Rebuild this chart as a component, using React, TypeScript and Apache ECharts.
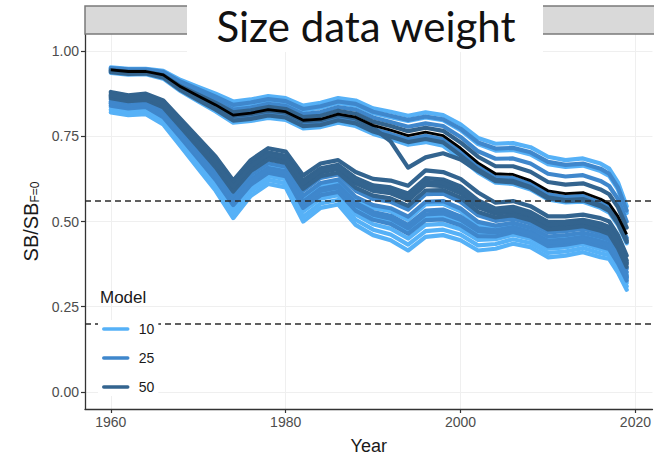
import React, { useEffect, useRef } from "react";
import * as echarts from "echarts";

// ---------- data ----------
const YEARS = [1960, 1962, 1964, 1966, 1968, 1970, 1972, 1974, 1976, 1978, 1980, 1982, 1984, 1986, 1988, 1990,
  1992, 1994, 1996, 1998, 2000, 2002, 2004, 2006, 2008, 2010, 2012, 2014, 2016, 2017, 2018, 2019];

const X_TICKS = [1960, 1980, 2000, 2020];
const Y_TICKS = [0, 0.25, 0.5, 0.75, 1.0];
const REF_LINES = [0.56, 0.2];
const MODELS = ["10", "25", "50"];
const TITLE = "Size data weight";

// base model run (black)
const BASE = [.945, .940, .940, .930, .895, .868, .842, .812, .818, .828, .822, .797, .800, .815, .806, .782,
  .768, .752, .762, .752, .715, .672, .640, .638, .620, .590, .582, .585, .566, .552, .515, .462];

// Model 10 — upper group
const M10_U1 = [.952, .948, .948, .942, .915, .895, .875, .852, .858, .868, .862, .840, .848, .862, .855, .832,
  .822, .810, .820, .812, .785, .745, .728, .730, .718, .690, .680, .685, .670, .655, .615, .545];
const M10_U2 = [.948, .944, .944, .936, .906, .884, .862, .838, .845, .856, .850, .826, .834, .848, .840, .818,
  .806, .795, .805, .797, .768, .727, .708, .710, .697, .668, .660, .664, .648, .634, .594, .525];
const M10_U3 = [.936, .931, .932, .919, .882, .852, .823, .790, .795, .804, .798, .773, .777, .790, .780, .757,
  .742, .725, .733, .722, .685, .644, .614, .610, .594, .565, .556, .558, .540, .526, .490, .436];
// Model 10 — lower group
const M10_L1 = [.820, .812, .815, .785, .720, .655, .590, .510, .575, .610, .600, .500, .540, .550, .490, .460,
  .445, .415, .455, .460, .445, .415, .420, .435, .425, .395, .400, .410, .395, .390, .350, .300];
const M10_L2 = [.828, .820, .823, .793, .730, .666, .602, .524, .588, .622, .612, .514, .553, .563, .505, .476,
  .462, .432, .472, .476, .461, .430, .434, .448, .437, .408, .412, .422, .407, .401, .360, .310];
const M10_L3 = [.836, .828, .831, .801, .740, .677, .614, .538, .600, .634, .624, .530, .567, .577, .521, .492,
  .479, .450, .490, .493, .477, .446, .448, .461, .449, .420, .424, .434, .419, .412, .371, .320];
const M10_L4 = [.845, .837, .840, .810, .750, .688, .627, .554, .614, .648, .638, .548, .584, .594, .540, .512,
  .500, .472, .512, .514, .497, .464, .462, .475, .462, .434, .438, .447, .433, .425, .384, .333];
const M10_L5 = [.852, .844, .848, .818, .760, .700, .640, .570, .630, .665, .655, .568, .605, .615, .565, .540,
  .530, .505, .550, .552, .530, .490, .480, .490, .476, .450, .455, .462, .450, .442, .400, .345];

// Model 25 — upper group
const M25_U1 = [.946, .942, .942, .933, .902, .878, .855, .828, .834, .845, .839, .815, .821, .836, .828, .805,
  .792, .778, .788, .780, .748, .706, .684, .685, .670, .640, .632, .636, .619, .604, .566, .500];
const M25_U2 = [.940, .935, .936, .925, .889, .861, .834, .802, .808, .818, .812, .786, .790, .804, .795, .771,
  .757, .741, .751, .741, .704, .661, .630, .628, .610, .580, .572, .575, .556, .542, .505, .452];
const M25_U3 = [.950, .946, .946, .939, .910, .888, .866, .842, .849, .859, .853, .830, .838, .852, .845, .822,
  .810, .798, .808, .800, .772, .732, .714, .716, .703, .675, .666, .670, .655, .640, .600, .532];
// Model 25 — lower group
const M25_L1 = [.840, .832, .836, .806, .746, .684, .622, .548, .608, .643, .633, .540, .577, .587, .532, .505,
  .493, .464, .504, .506, .489, .457, .456, .469, .456, .428, .432, .441, .427, .419, .378, .327];
const M25_L2 = [.850, .842, .846, .816, .757, .696, .635, .563, .623, .657, .647, .558, .596, .606, .555, .528,
  .517, .490, .532, .535, .515, .480, .474, .484, .470, .443, .447, .455, .442, .434, .392, .340];
const M25_L3 = [.858, .850, .854, .824, .767, .707, .647, .577, .637, .671, .661, .575, .613, .623, .572, .548,
  .539, .514, .558, .560, .538, .499, .488, .496, .482, .456, .460, .467, .455, .446, .404, .352];
const M25_L4 = [.865, .857, .861, .831, .776, .717, .658, .590, .650, .684, .674, .590, .628, .638, .590, .566,
  .558, .535, .580, .582, .558, .518, .502, .508, .494, .468, .472, .479, .466, .457, .415, .362];
const M25_L5 = [.846, .838, .842, .812, .753, .691, .630, .557, .617, .652, .642, .552, .590, .600, .548, .520,
  .508, .480, .521, .524, .505, .472, .468, .478, .465, .437, .441, .450, .437, .428, .387, .336];

// Model 50 — upper group
const M50_U1 = [.944, .939, .939, .929, .896, .872, .848, .820, .826, .836, .830, .806, .810, .825, .816, .793,
  .780, .765, .775, .766, .732, .690, .662, .662, .646, .616, .608, .612, .594, .580, .542, .482];
const M50_U2 = [.938, .933, .934, .922, .885, .856, .828, .796, .801, .811, .805, .780, .783, .797, .788, .764,
  .749, .733, .742, .732, .694, .652, .622, .619, .601, .571, .563, .566, .548, .534, .497, .445];
const M50_U3 = [.942, .937, .937, .927, .892, .866, .840, .810, .815, .825, .819, .794, .797, .812, .802, .775,
  .735, .658, .688, .700, .682, .648, .618, .615, .598, .568, .560, .562, .545, .531, .494, .440];
// Model 50 — lower group
const M50_L1 = [.880, .870, .875, .855, .800, .745, .690, .620, .680, .715, .705, .635, .670, .680, .645, .625,
  .620, .605, .650, .645, .625, .585, .555, .560, .545, .515, .515, .520, .510, .500, .460, .400];
const M50_L2 = [.874, .865, .869, .848, .792, .735, .678, .608, .668, .703, .693, .620, .656, .666, .628, .606,
  .600, .582, .627, .623, .603, .562, .538, .543, .528, .499, .500, .505, .494, .484, .444, .386];
const M50_L3 = [.868, .859, .863, .841, .784, .726, .668, .598, .658, .692, .682, .607, .644, .654, .612, .590,
  .583, .562, .607, .604, .583, .542, .523, .528, .514, .486, .488, .494, .481, .472, .431, .375];
const M50_L4 = [.862, .853, .857, .835, .777, .718, .659, .588, .648, .682, .672, .596, .633, .643, .599, .576,
  .568, .546, .591, .592, .570, .528, .512, .518, .504, .477, .480, .486, .473, .463, .422, .367];
const M50_L5 = [.870, .861, .866, .844, .788, .730, .672, .602, .662, .697, .687, .612, .649, .659, .619, .597,
  .590, .571, .616, .613, .592, .550, .530, .535, .520, .492, .494, .500, .487, .478, .437, .380];

const MODEL_LINES: Record<string, number[][]> = {
  "10": [M10_L1, M10_L2, M10_L3, M10_L4, M10_L5, M10_U1, M10_U2, M10_U3],
  "25": [M25_L1, M25_L2, M25_L3, M25_L4, M25_L5, M25_U1, M25_U2, M25_U3],
  "50": [M50_L1, M50_L2, M50_L3, M50_L4, M50_L5, M50_U1, M50_U2, M50_U3],
};

const COLORS: Record<string, string> = { "10": "#56B1F7", "25": "#3F87CC", "50": "#33648F" };

// ---------- component ----------
export default function App() {
  const ref = useRef<HTMLDivElement>(null);

  useEffect(() => {
    if (!ref.current) return;
    const chart = echarts.init(ref.current, undefined, { renderer: "svg" });
    const FONT = "Liberation Sans, Arial, sans-serif";

    const series: any[] = [];
    // grid lines (kept beneath the data lines)
    series.push({
      type: "line",
      data: [],
      silent: true,
      z: 0,
      markLine: {
        z: 0,
        silent: true,
        symbol: "none",
        label: { show: false },
        lineStyle: { color: "#EFEFEF", width: 1, type: "solid" },
        data: [
          ...Y_TICKS.map((v) => ({ yAxis: v })),
          ...X_TICKS.map((v) => ({ xAxis: v })),
        ],
      },
    });

    MODELS.forEach((m, mi) => {
      MODEL_LINES[m].forEach((vals) => {
        series.push({
          type: "line",
          name: m,
          data: YEARS.map((y, i) => [y, vals[i]]),
          showSymbol: false,
          symbol: "none",
          silent: true,
          z: 2 + mi,
          lineStyle: { color: COLORS[m], width: 4.2, join: "round", cap: "round" },
          itemStyle: { color: COLORS[m] },
        });
      });
    });

    series.push({
      type: "line",
      name: "base",
      data: YEARS.map((y, i) => [y, BASE[i]]),
      showSymbol: false,
      symbol: "none",
      silent: true,
      z: 6,
      lineStyle: { color: "#000000", width: 2.8, join: "round" },
      itemStyle: { color: "#000000" },
    });

    series.push({
      type: "line",
      data: [],
      silent: true,
      z: 8,
      markLine: {
        z: 8,
        silent: true,
        symbol: "none",
        label: { show: false },
        lineStyle: { color: "#2b2b2b", width: 1.6, type: [6, 4] },
        data: REF_LINES.map((v) => ({ yAxis: v })),
      },
    });

    chart.setOption({
      animation: false,
      backgroundColor: "#ffffff",
      grid: { left: 85, top: 34, right: -7, bottom: 47, containLabel: false },
      xAxis: {
        type: "value",
        min: 1957.05,
        max: 2021.95,
        name: "Year",
        nameLocation: "middle",
        nameGap: 28,
        nameTextStyle: { fontFamily: FONT, fontSize: 18, color: "#1a1a1a" },
        axisLine: { show: true, onZero: false, lineStyle: { color: "#333333", width: 1.3 } },
        axisTick: { show: true, length: 4, customValues: X_TICKS, lineStyle: { color: "#333333", width: 1.2 } },
        axisLabel: {
          customValues: X_TICKS,
          fontFamily: FONT,
          fontSize: 14,
          color: "#4D4D4D",
          margin: 6,
          formatter: (v: number) => String(v),
        },
        splitLine: { show: false },
      },
      yAxis: {
        type: "value",
        min: -0.05,
        max: 1.05,
        name: "SB/SB{s|F=0}",
        nameLocation: "middle",
        nameGap: 42,
        nameRotate: 90,
        nameTextStyle: {
          fontFamily: FONT,
          fontSize: 20,
          color: "#1a1a1a",
          rich: {
            s: { fontFamily: FONT, fontSize: 12, color: "#1a1a1a", verticalAlign: "bottom", padding: [8, 0, 0, 0] },
          },
        },
        axisLine: { show: true, onZero: false, lineStyle: { color: "#333333", width: 1.3 } },
        axisTick: { show: true, length: 4, customValues: Y_TICKS, lineStyle: { color: "#333333", width: 1.2 } },
        axisLabel: {
          customValues: Y_TICKS,
          fontFamily: FONT,
          fontSize: 14,
          color: "#4D4D4D",
          margin: 6,
          formatter: (v: number) => v.toFixed(2),
        },
        splitLine: { show: false },
      },
      legend: {
        data: MODELS,
        orient: "vertical",
        left: 98,
        top: 320,
        itemWidth: 24,
        itemHeight: 14,
        itemGap: 15,
        padding: [2, 4, 2, 4],
        backgroundColor: "#ffffff",
        z: 20,
        selectedMode: false,
        itemStyle: { opacity: 0 },
        lineStyle: { width: 3.5, opacity: 1 },
        textStyle: { fontFamily: FONT, fontSize: 14, color: "#1a1a1a", padding: [0, 0, 0, 6] },
      },
      graphic: [
        {
          type: "rect",
          shape: { x: 85, y: 6, width: 600, height: 28 },
          style: { fill: "#D9D9D9", stroke: "#7A7A7A", lineWidth: 1.5 },
          z: 10,
        },
        {
          type: "rect",
          shape: { x: 187, y: 0, width: 356, height: 52 },
          style: { fill: "#ffffff" },
          z: 11,
        },
        {
          type: "text",
          x: 366,
          y: 26,
          style: {
            text: TITLE,
            fontFamily: "Lato, sans-serif",
            fontSize: 42,
            fill: "#111111",
            align: "center",
            verticalAlign: "middle",
          },
          z: 12,
        },
        {
          type: "text",
          x: 100,
          y: 297,
          style: {
            text: "Model",
            fontFamily: FONT,
            fontSize: 17,
            fill: "#1a1a1a",
            align: "left",
            verticalAlign: "middle",
          },
          z: 12,
        },
      ],
      series,
    });

    return () => chart.dispose();
  }, []);

  return (
    <div
      ref={ref}
      style={{ position: "absolute", left: 0, top: 0, width: 654, height: 460, background: "#fff" }}
    />
  );
}
